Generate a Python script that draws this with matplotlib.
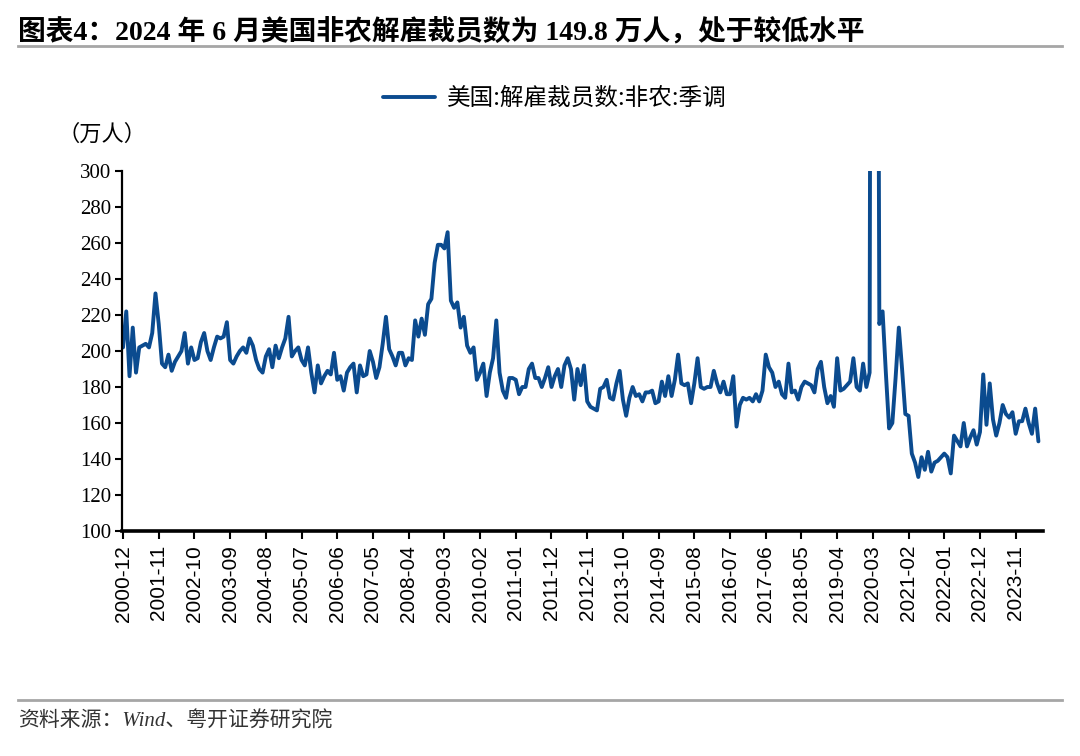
import matplotlib
matplotlib.use('Agg')
import matplotlib.pyplot as plt
import pandas as pd

plt.rcParams['font.family'] = ['Liberation Serif', 'Noto Sans CJK SC', 'DejaVu Sans']

# 美国非农解雇裁员数（季调，万人），2000-12 至 2024-06，按年分行
v2000 = [202]
v2001 = [222, 186, 213, 188, 202, 203, 204, 202, 210, 232, 215, 193]
v2002 = [191, 198, 189, 194, 197, 200, 210, 193, 202, 195, 196, 205]
v2003 = [210, 200, 195, 202, 208, 207, 208, 216, 195, 193, 197, 200]
v2004 = [202, 199, 207, 203, 195, 190, 188, 197, 201, 191, 203, 196]
v2005 = [202, 207, 219, 197, 200, 202, 195, 192, 202, 188, 177, 192]
v2006 = [182, 186, 189, 187, 199, 184, 186, 178, 188, 191, 193, 177]
v2007 = [192, 186, 187, 200, 194, 185, 191, 204, 219, 201, 197, 192]
v2008 = [199, 199, 192, 196, 195, 217, 208, 218, 209, 226, 229, 249]
v2009 = [259, 259, 257, 266, 228, 224, 227, 213, 219, 203, 199, 202]
v2010 = [184, 188, 193, 175, 188, 196, 217, 188, 178, 174, 185, 185]
v2011 = [184, 176, 180, 180, 190, 193, 185, 185, 180, 185, 191, 180]
v2012 = [186, 190, 180, 192, 196, 190, 173, 190, 181, 192, 172, 169]
v2013 = [168, 167, 179, 180, 184, 174, 173, 182, 189, 173, 164, 174]
v2014 = [180, 175, 176, 172, 177, 177, 178, 171, 172, 183, 175, 186]
v2015 = [175, 184, 198, 182, 181, 182, 171, 182, 196, 180, 179, 180]
v2016 = [180, 189, 182, 177, 183, 176, 176, 186, 158, 170, 174, 173]
v2017 = [174, 172, 176, 172, 178, 198, 191, 188, 180, 183, 176, 174]
v2018 = [193, 177, 178, 173, 180, 183, 182, 181, 177, 190, 194, 180]
v2019 = [171, 175, 169, 196, 178, 179, 181, 183, 196, 180, 178, 193]
v2020 = [180, 188, 1150, 770, 215, 222, 188, 157, 160, 185, 213, 190]
v2021 = [165, 164, 143, 138, 130, 141, 134, 144, 133, 138, 139, 141]
v2022 = [143, 141, 132, 153, 150, 147, 160, 147, 152, 156, 148, 155]
v2023 = [187, 159, 182, 162, 153, 160, 170, 165, 163, 166, 154, 161]
v2024 = [161, 168, 160, 154, 168, 149.8]

layoffs = (v2000 + v2001 + v2002 + v2003 + v2004 + v2005 + v2006 + v2007 + v2008
           + v2009 + v2010 + v2011 + v2012 + v2013 + v2014 + v2015 + v2016 + v2017
           + v2018 + v2019 + v2020 + v2021 + v2022 + v2023 + v2024)
months = pd.date_range('2000-12-01', periods=len(layoffs), freq='MS')
x = list(range(len(layoffs)))

fig = plt.figure(figsize=(10.8, 7.56), dpi=100)
ax = fig.add_axes([0.113, 0.2976, 0.853, 0.4762])

ax.plot(x, layoffs, color='#0B4B8F', linewidth=2.8, solid_joinstyle='round',
        solid_capstyle='round', label='美国:解雇裁员数:非农:季调')

ax.set_ylim(100, 300)
ax.set_yticks(range(100, 301, 20))
ax.set_xlim(-0.3, len(layoffs) + 0.5)
tick_pos = list(range(0, len(layoffs), 11))
ax.set_xticks(tick_pos)
ax.set_xticklabels([months[i].strftime('%Y-%m') for i in tick_pos], rotation=90,
                   family=['Liberation Sans'], fontsize=15)
for lab in ax.get_yticklabels():
    lab.set_fontsize(15)

ax.spines['top'].set_visible(False)
ax.spines['right'].set_visible(False)
ax.spines['left'].set_linewidth(1.6)
ax.spines['bottom'].set_linewidth(2.6)
ax.tick_params(axis='y', direction='out', length=5, width=1.5, pad=3)
ax.tick_params(axis='x', direction='out', length=6, width=1.5, pad=4)

leg = ax.legend(loc='lower center', bbox_to_anchor=(0.47, 1.11), frameon=False,
                prop={'family': ['Noto Sans CJK SC'], 'size': 17},
                handlelength=2.2, handletextpad=0.5)

fig.text(0.053, 0.822, '（万人）', fontsize=16, family=['Noto Sans CJK SC'], va='center')

fig.text(0.017, 0.958, '图表4：2024 年 6 月美国非农解雇裁员数为 149.8 万人，处于较低水平',
         fontsize=20, fontweight='bold', va='center')
fig.add_artist(plt.Line2D([0.017, 0.983], [0.939, 0.939], color='#A6A6A6', linewidth=2))
fig.add_artist(plt.Line2D([0.017, 0.983], [0.074, 0.074], color='#A6A6A6', linewidth=2))
fig.text(0.017, 0.045, '资料来源：Wind、粤开证券研究院', fontsize=15, style='italic',
         va='center', color='#333333')

fig.savefig('out.png', dpi=100)
